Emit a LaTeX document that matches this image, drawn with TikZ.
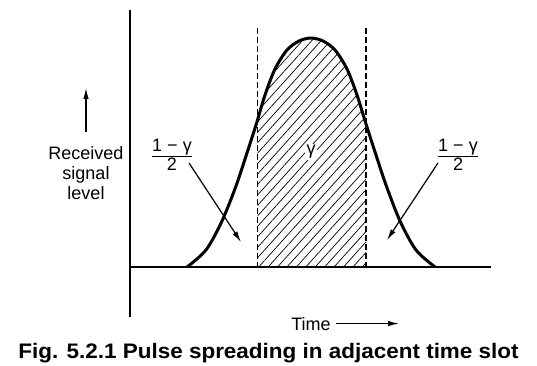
\documentclass[tikz,border=0pt]{standalone}
\usepackage{fontspec}
\setmainfont{Liberation Sans}
\usepackage{graphicx}
\usetikzlibrary{arrows.meta,patterns.meta,positioning}
\setlength\arrayrulewidth{1.1pt}

\begin{document}
\begin{tikzpicture}[x=1pt, y=-1pt,
  axis/.style={line width=1.5pt},
  pulse/.style={line width=3pt, line join=round},
  slotline/.style={line width=1.1pt, dash pattern=on 6pt off 3pt},
  pointer/.style={line width=1.2pt, -{Latex[length=11pt,width=5.5pt]}},
  lbl/.style={font=\fontsize{18}{20}\selectfont, inner sep=0pt},
  frac/.style={lbl, align=center}
]
  \useasboundingbox (0,0) rectangle (537,366);
  \def\pulsecurve{plot[smooth] coordinates {(187,267) (206,250) (222,221) (236,186)
    (246,156) (256,125) (265,95) (275,69) (287,50) (299,41) (311,38) (323,41)
    (335,50) (347,69) (357,95) (366,124) (376,155) (386,185) (400,221)
    (416,250) (435,267)}}

  % hatched slot
  \begin{scope}
    \clip (257.5,0) rectangle (366,267);
    \fill[pattern={Lines[angle=48,distance=7pt,line width=0.7pt]}] \pulsecurve -- cycle;
  \end{scope}

  % axes
  \coordinate (origin) at (130,267);
  \coordinate (ytop) at (130,10);
  \coordinate (ybot) at (130,317);
  \coordinate (xend) at (491,267);
  \draw[axis] (ytop) -- (ybot);
  \draw[axis] (origin) -- (xend);

  % slot edges
  \coordinate (slotL) at (257.5,28);
  \coordinate (slotR) at (366,28);
  \draw[slotline] (slotL) -- (slotL |- origin);
  \draw[slotline] (slotR) -- (slotR |- origin);

  \draw[pulse] \pulsecurve;

  \node[lbl, fill=white, inner sep=1.5pt] (gam) at (311,152) {γ};

  % fractions and pointers
  \node[frac] (fracL) at (172,157) {\renewcommand\arraystretch{0.8}\begin{tabular}{@{}c@{}}1 − γ\\\hline 2\end{tabular}};
  \node[frac] (fracR) at (458,157) {\renewcommand\arraystretch{0.8}\begin{tabular}{@{}c@{}}1 − γ\\\hline 2\end{tabular}};
  \coordinate (tailL) at (189,163);
  \coordinate (tipL) at (241,242);
  \coordinate (tailR) at (438,163);
  \coordinate (tipR) at (387,240);
  \draw[pointer] (tailL) -- (tipL);
  \draw[pointer] (tailR) -- (tipR);

  % axis labels
  \node[lbl, align=center, anchor=north] (recv) at (86,146) {Received\\signal\\level};
  \draw[pointer] ([yshift=14pt]recv.north) -- ++(0,-44);

  \node[lbl, anchor=base] (time) at (311,330) {Time};
  \coordinate (timeTip) at (399,321);
  \draw[pointer] ([xshift=5pt]time.east) -- (time.east -| timeTip);

  \node[font=\fontsize{21}{24}\selectfont\bfseries, inner sep=0pt, anchor=base] (caption) at (268.5,358)
    {\scalebox{1.07}[1]{Fig. 5.2.1 Pulse spreading in adjacent time slot}};
\end{tikzpicture}
\end{document}
